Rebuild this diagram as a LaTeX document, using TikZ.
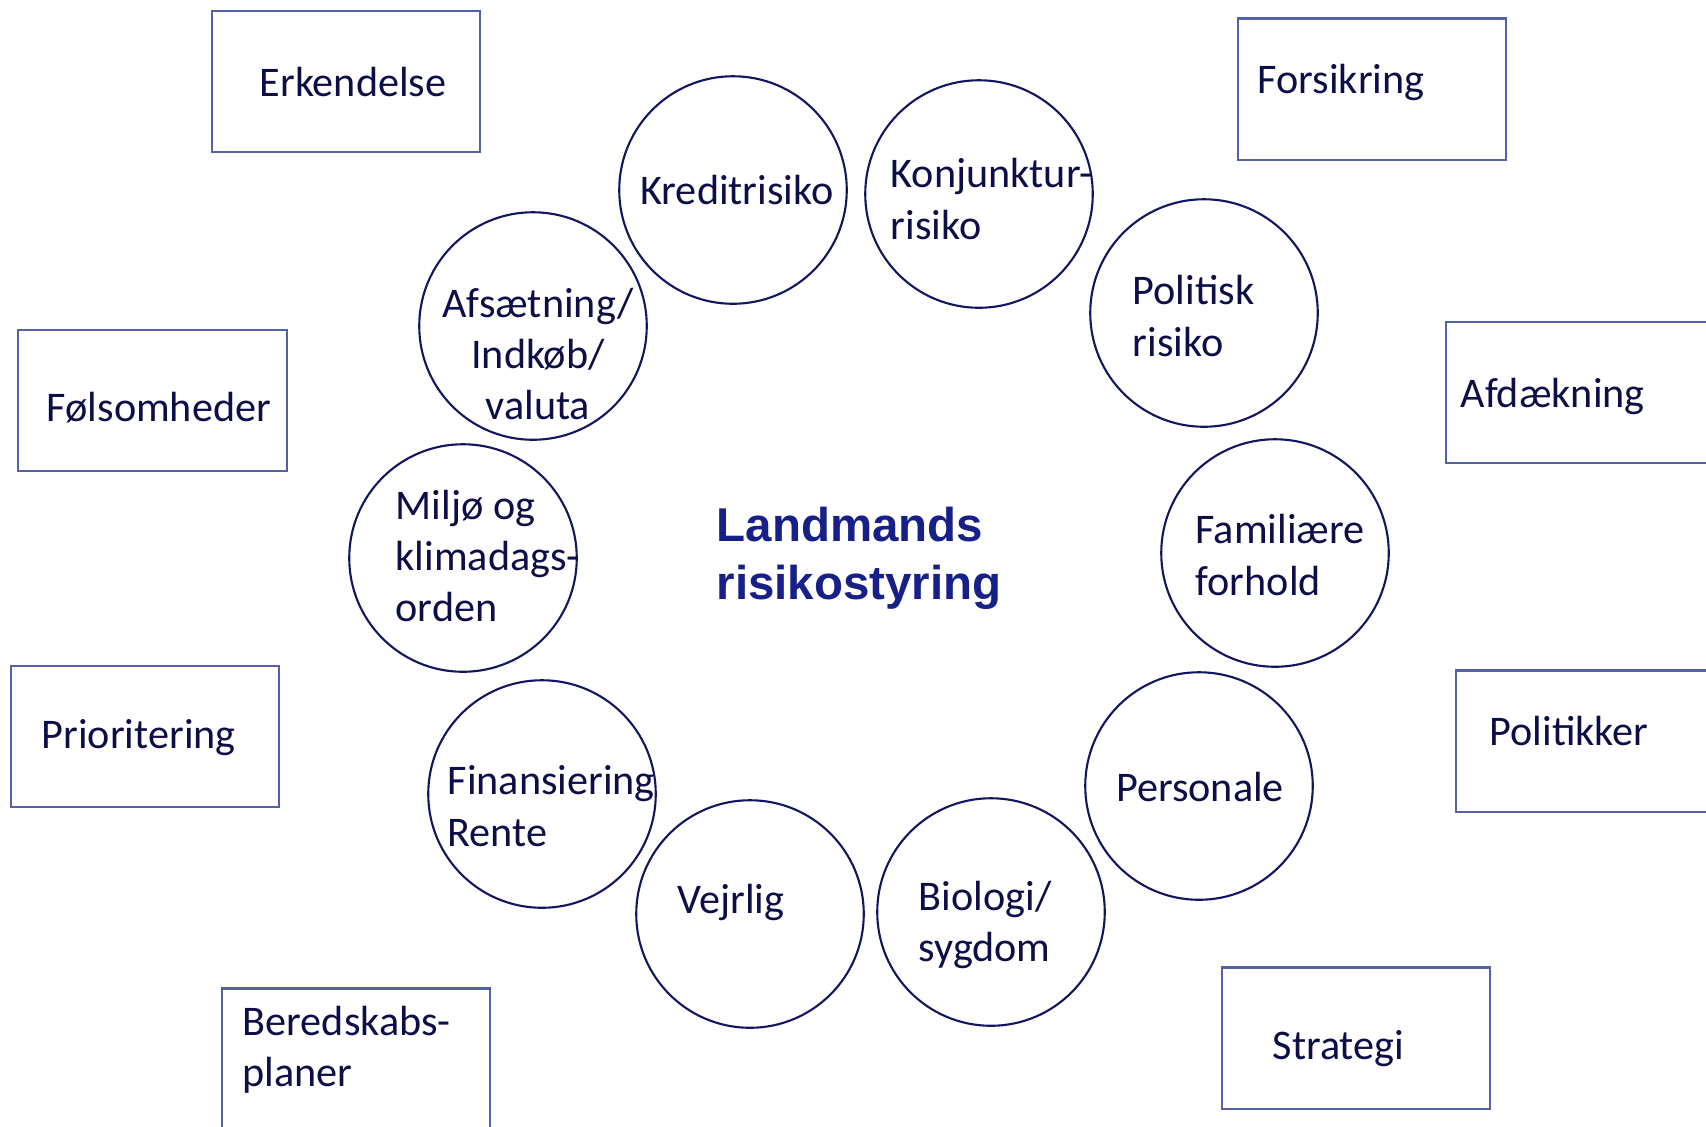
\documentclass[tikz,border=0pt]{standalone}
\usepackage{fontspec}
\setmainfont{Carlito}
\newfontfamily\titlefont{Liberation Sans}
\usepackage{tikz}
\usetikzlibrary{positioning}
\definecolor{risk_line}{RGB}{16, 22, 96}
\definecolor{box_line}{RGB}{84, 96, 170}
\definecolor{ink}{RGB}{12, 14, 72}
\definecolor{title_blue}{RGB}{22, 32, 136}
\tikzstyle{rc}=[circle,draw=risk_line,line width=0.6pt,inner sep=0pt,
  minimum size=2.274cm]
\tikzstyle{bx}=[rectangle,draw=box_line,line width=0.6pt,inner sep=0pt,
  minimum width=2.68cm,minimum height=1.41cm]
\tikzstyle{lbl}=[inner sep=0pt,text=ink,align=left,
  font=\fontsize{12}{14.6}\selectfont]
\tikzstyle{ttl}=[inner sep=0pt,text=title_blue,align=left,
  font=\titlefont\bfseries\fontsize{13.5}{16.4}\selectfont]

\begin{document}
\begin{tikzpicture}[x=0.01cm, y=-0.01cm]
            \useasboundingbox (0, 0) rectangle (1706, 1126);
            \clip (0, 0) rectangle (1706, 1126);
            % risks in the ring
            \node [style=rc] (kredit) at (733, 190) {};
            \node [style=rc] (konjunktur) at (979, 194) {};
            \node [style=rc] (politisk) at (1204, 313) {};
            \node [style=rc] (familie) at (1275, 553) {};
            \node [style=rc] (personale) at (1199, 786) {};
            \node [style=rc] (biologi) at (991, 912) {};
            \node [style=rc] (vejrlig) at (750, 914) {};
            \node [style=rc] (finans) at (542, 794) {};
            \node [style=rc] (miljoe) at (463, 558) {};
            \node [style=rc] (afsaetning) at (533, 326) {};
            \node [style=lbl] (kredit-t) at (737, 190) {Kreditrisiko};
            \node [style=lbl, anchor=west] (konjunktur-t) at (890, 199) {Konjunktur-\\risiko};
            \node [style=lbl, anchor=west] (politisk-t) at (1132, 316) {Politisk\\risiko};
            \node [style=lbl, anchor=west] (familie-t) at (1195, 555) {Familiære\\forhold};
            \node [style=lbl] (personale-t) at (1200, 787) {Personale};
            \node [style=lbl, anchor=west] (biologi-t) at (918, 925) {Biologi/\\sygdom};
            \node [style=lbl] (vejrlig-t) at (731, 902) {Vejrlig};
            \node [style=lbl, anchor=west] (finans-t) at (447, 806) {Finansiering\\Rente};
            \node [style=lbl, anchor=west] (miljoe-t) at (395, 556) {Miljø og\\klimadags-\\orden};
            \node [style=lbl, align=center] (afsaetning-t) at (538, 354) {Afsætning/\\Indkøb/\\valuta};
            % centre
            \node [style=ttl, anchor=west] (titel) at (716, 558) {Landmands\\risikostyring};
            % measures around it
            \node [style=bx] (erk) at (346, 81.5) {};
            \node [style=bx] (fors) at (1372, 89) {};
            \node [style=bx] (foel) at (152.5, 400.5) {};
            \node [style=bx] (afd) at (1580, 392.5) {};
            \node [style=bx] (prio) at (145, 736.5) {};
            \node [style=bx] (pol) at (1590, 741) {};
            \node [style=bx] (bered) at (356, 1059) {};
            \node [style=bx] (strat) at (1356, 1038) {};
            \node [style=lbl, anchor=west] (erk-t) at (259, 82) {Erkendelse};
            \node [style=lbl, anchor=west] (fors-t) at (1257, 82) {Forsikring};
            \node [style=lbl, anchor=west] (foel-t) at (46, 408) {Følsomheder};
            \node [style=lbl, anchor=west] (afd-t) at (1460, 396) {Afdækning};
            \node [style=lbl, anchor=west] (prio-t) at (41, 738) {Prioritering};
            \node [style=lbl, anchor=west] (pol-t) at (1489, 731) {Politikker};
            \node [style=lbl, anchor=west] (bered-t) at (242, 1050) {Beredskabs-\\planer};
            \node [style=lbl, anchor=west] (strat-t) at (1272, 1049) {Strategi};
    \end{tikzpicture}
\end{document}
